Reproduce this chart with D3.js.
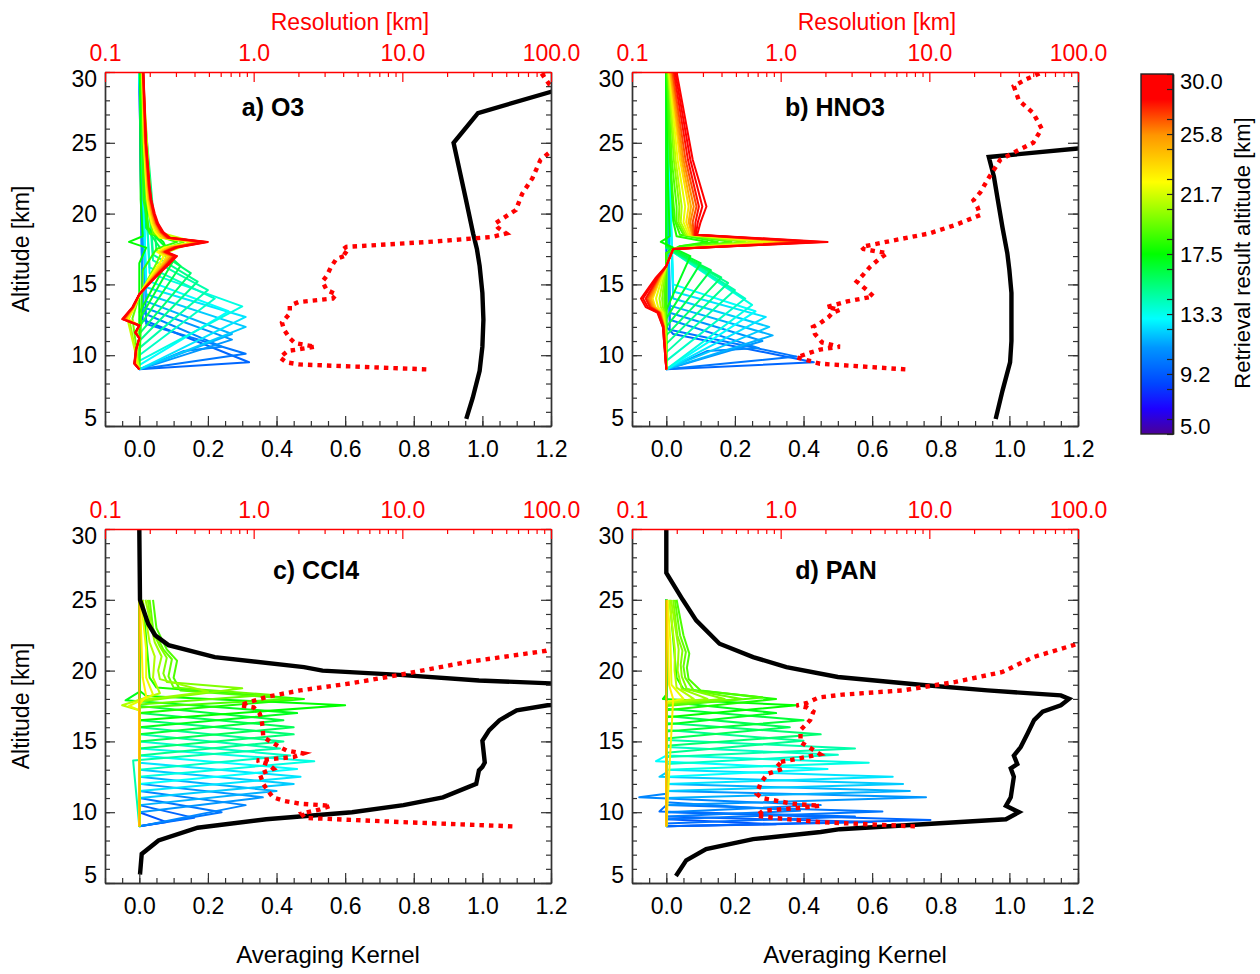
<!DOCTYPE html>
<html>
<head>
<meta charset="utf-8">
<script src="https://cdn.jsdelivr.net/npm/d3@7"></script>
<style>
  body { margin: 0; background: #fff; }
  text { font-family: "Liberation Sans", Arial, sans-serif; }
</style>
</head>
<body>
<svg id="chart" width="1260" height="974"></svg>
<script>
const ALT_TICKS = [5, 10, 15, 20, 25, 30];
const AK_TICKS = [0, 0.2, 0.4, 0.6, 0.8, 1.0, 1.2];
const RES_TICKS = [0.1, 1, 10, 100];
const CBAR_TICKS = [5.0, 9.17, 13.33, 17.5, 21.67, 25.83, 30.0];

const CMAP_POS = [0, 0.07, 0.14, 0.24, 0.32, 0.5, 0.7, 0.83, 0.93, 1];
const CMAP_COL = ['#4b0096', '#1e00ff', '#0046ff', '#0096ff', '#00ffff', '#00ff00', '#ffff00', '#ff9600', '#ff0000', '#ff0000'];

// kernels: [retrieval altitude, [alt, ak, alt, ak, ...]]
const O3_AK = [
  [9.5,  [9.0,0, 9.5,0.32, 12.5,0.01, 30,0]],
  [10.0, [9.0,0, 10.1,0.31, 12.2,0.02, 30,0]],
  [10.5, [9.0,0, 10.3,0.13, 10.6,0.24, 13.0,0.01, 30,0]],
  [11.0, [9.0,0, 11.1,0.27, 13.4,0.01, 30,0]],
  [11.5, [9.0,0, 11.5,0.27, 13.8,0.02, 30,0]],
  [12.0, [9.0,0, 12.0,0.31, 14.3,0.02, 30,0]],
  [12.5, [9.0,0, 12.7,0.31, 14.8,0.02, 30,0]],
  [13.0, [9.3,0, 13.1,0.26, 15.3,0.02, 30,0]],
  [13.5, [9.6,0, 13.45,0.30, 15.8,0.03, 30,0]],
  [14.0, [10.0,0, 14.0,0.22, 16.2,0.03, 30,0]],
  [14.5, [10.5,0, 14.6,0.20, 16.7,0.04, 30,0]],
  [15.0, [11.0,0, 15.2,0.17, 17.1,0.04, 30,0.005]],
  [15.5, [11.5,0, 15.8,0.15, 17.4,0.05, 30,0.005]],
  [16.0, [12.0,0, 16.3,0.12, 17.6,0.06, 19.0,0.02, 30,0.005]],
  [16.5, [12.5,0, 16.7,0.10, 17.8,0.07, 19.0,0.02, 30,0.005]],
  [17.0, [13.0,0, 17.0,0.09, 18.0,0.07, 19.0,0.025, 30,0.006]],
  [17.5, [9.0,0, 16.5,0, 17.6,0.02, 18.0,-0.03, 18.4,0.01, 21.0,0.004, 30,0.002]],
  [18.5, [9.0,0, 16.0,0.01, 17.5,0.05, 18.0,0.11, 18.6,0.03, 21.0,0.012, 30,0.005]],
  [19.5, [9.0,0, 12.6,-0.02, 14.2,0, 16.5,0.05, 17.5,0.07, 18.0,0.13, 18.6,0.04, 21.0,0.02, 30,0.008]],
  [20.5, [9.0,0, 12.6,-0.03, 14.2,0, 16.5,0.06, 17.4,0.08, 18.0,0.15, 18.6,0.05, 20.0,0.03, 30,0.009]],
  [21.5, [9.0,0, 12.6,-0.035, 14.2,0, 16.5,0.07, 17.3,0.085, 18.0,0.16, 18.7,0.055, 20.0,0.035, 30,0.01]],
  [22.5, [9.0,0, 9.4,-0.01, 10.4,-0.007, 11.2,0, 11.6,-0.008, 12.1,0, 12.55,-0.033, 13.4,-0.013, 14.3,0, 15.3,0.026, 15.8,0.039, 16.5,0.059, 17.0,0.072, 17.3,0.052, 17.6,0.072, 18.0,0.165, 18.3,0.059, 18.7,0.046, 19.3,0.036, 20.0,0.029, 21.0,0.023, 22.0,0.02, 25.0,0.013, 30,0.008]],
  [23.5, [9.0,0, 9.4,-0.011, 10.4,-0.008, 11.2,0, 11.6,-0.009, 12.1,0, 12.55,-0.038, 13.4,-0.015, 14.3,0, 15.3,0.03, 15.8,0.045, 16.5,0.068, 17.0,0.083, 17.3,0.06, 17.6,0.083, 18.0,0.17, 18.3,0.068, 18.7,0.053, 19.3,0.041, 20.0,0.034, 21.0,0.026, 22.0,0.023, 25.0,0.015, 30,0.009]],
  [24.5, [9.0,0, 9.4,-0.012, 10.4,-0.008, 11.2,0, 11.6,-0.01, 12.1,0, 12.55,-0.04, 13.4,-0.016, 14.3,0, 15.3,0.032, 15.8,0.048, 16.5,0.072, 17.0,0.088, 17.3,0.064, 17.6,0.088, 18.0,0.175, 18.3,0.072, 18.7,0.056, 19.3,0.044, 20.0,0.036, 21.0,0.028, 22.0,0.024, 25.0,0.016, 30,0.01]],
  [26.0, [9.0,0, 9.4,-0.013, 10.4,-0.009, 11.2,0, 11.6,-0.01, 12.1,0, 12.55,-0.043, 13.4,-0.017, 14.3,0, 15.3,0.034, 15.8,0.051, 16.5,0.077, 17.0,0.094, 17.3,0.068, 17.6,0.094, 18.0,0.18, 18.3,0.077, 18.7,0.06, 19.3,0.047, 20.0,0.038, 21.0,0.03, 22.0,0.026, 25.0,0.017, 30,0.01]],
  [27.0, [9.0,0, 9.4,-0.014, 10.4,-0.009, 11.2,0, 11.6,-0.011, 12.1,0, 12.55,-0.045, 13.4,-0.018, 14.3,0, 15.3,0.036, 15.8,0.054, 16.5,0.081, 17.0,0.099, 17.3,0.072, 17.6,0.099, 18.0,0.185, 18.3,0.081, 18.7,0.063, 19.3,0.05, 20.0,0.041, 21.0,0.032, 22.0,0.027, 25.0,0.018, 30,0.011]],
  [28.0, [9.0,0, 9.4,-0.014, 10.4,-0.009, 11.2,0, 11.6,-0.011, 12.1,0, 12.55,-0.047, 13.4,-0.019, 14.3,0, 15.3,0.037, 15.8,0.056, 16.5,0.084, 17.0,0.102, 17.3,0.074, 17.6,0.102, 18.0,0.19, 18.3,0.084, 18.7,0.065, 19.3,0.051, 20.0,0.042, 21.0,0.033, 22.0,0.028, 25.0,0.019, 30,0.011]],
  [29.0, [9.0,0, 9.4,-0.014, 10.4,-0.01, 11.2,0, 11.6,-0.012, 12.1,0, 12.55,-0.048, 13.4,-0.019, 14.3,0, 15.3,0.038, 15.8,0.058, 16.5,0.086, 17.0,0.106, 17.3,0.077, 17.6,0.106, 18.0,0.195, 18.3,0.086, 18.7,0.067, 19.3,0.053, 20.0,0.043, 21.0,0.034, 22.0,0.029, 25.0,0.019, 30,0.012]],
  [30.0, [9.0,0, 9.4,-0.015, 10.4,-0.01, 11.2,0, 11.6,-0.012, 12.1,0, 12.55,-0.05, 13.4,-0.02, 14.3,0, 15.3,0.04, 15.8,0.06, 16.5,0.09, 17.0,0.11, 17.3,0.08, 17.6,0.11, 18.0,0.20, 18.3,0.09, 18.7,0.07, 19.3,0.055, 20.0,0.045, 21.0,0.035, 22.0,0.03, 25.0,0.02, 30,0.012]],
];

const HNO3_AK = [
  [9.5,  [9.0,0, 9.5,0.43, 11.5,0.02, 12.0,0, 30,0]],
  [10.0, [9.0,0, 9.9,0.38, 11.8,0.01, 30,0]],
  [10.5, [9.0,0, 10.3,0.12, 10.5,0.27, 12.5,0.01, 30,0]],
  [11.0, [9.0,0, 11.0,0.28, 13.0,0.01, 30,0]],
  [11.5, [9.0,0, 11.4,0.31, 13.5,0.01, 30,0]],
  [12.0, [9.0,0, 12.0,0.30, 14.0,0.02, 30,0]],
  [12.5, [9.0,0, 12.7,0.29, 14.5,0.02, 30,0]],
  [13.0, [9.0,0, 13.1,0.26, 15.0,0.02, 30,0]],
  [13.5, [9.0,0, 13.55,0.25, 17.6,0, 30,0]],
  [14.0, [9.6,0, 14.0,0.23, 17.6,0, 30,0]],
  [14.5, [10.2,0, 14.6,0.20, 17.6,0, 30,0]],
  [15.0, [10.8,0, 15.1,0.18, 17.6,0, 30,0]],
  [15.5, [11.4,0, 15.5,0.16, 17.6,0, 30,0]],
  [16.0, [12.0,0, 16.0,0.13, 17.6,0, 30,0]],
  [16.5, [12.6,0, 16.5,0.10, 17.7,0, 30,0]],
  [17.0, [13.2,0, 17.0,0.07, 17.8,0, 30,0]],
  [17.5, [9.0,0, 17.2,0, 17.6,0.02, 18.0,-0.016, 18.4,0.01, 22.0,0.005, 30,0]],
  [18.0, [9.0,0, 17.2,0, 17.7,0.04, 18.0,0.12, 18.4,0.03, 19.5,0.02, 22.0,0.015, 30,0.002]],
  [18.5, [9.0,0, 17.2,0, 17.7,0.04, 18.0,0.15, 18.5,0.04, 19.5,0.025, 21.0,0.02, 24.0,0.01, 30,0.002]],
  [19.0, [9.0,0, 12.0,-0.001, 13.0,-0.002, 13.4,-0.005, 14.0,-0.006, 15.5,-0.002, 16.3,0, 17.5,0.02, 18.0,0.19, 18.5,0.05, 19.4,0.03, 20.5,0.03, 23.8,0.016, 30,0.003]],
  [20.0, [9.0,0, 12.0,-0.002, 13.0,-0.004, 13.4,-0.01, 14.0,-0.012, 15.5,-0.005, 16.3,0, 17.5,0.02, 18.0,0.23, 18.5,0.055, 19.4,0.036, 20.5,0.038, 23.8,0.022, 30,0.005]],
  [21.0, [9.0,0, 12.0,-0.003, 13.0,-0.007, 13.4,-0.016, 14.0,-0.02, 15.5,-0.008, 16.3,0, 17.5,0.02, 18.0,0.27, 18.5,0.06, 19.4,0.042, 20.5,0.045, 23.8,0.027, 30,0.006]],
  [22.0, [9.0,0, 12.0,-0.004, 13.0,-0.01, 13.4,-0.024, 14.0,-0.03, 15.5,-0.012, 16.3,0, 17.5,0.02, 18.0,0.31, 18.5,0.065, 19.4,0.05, 20.5,0.055, 23.8,0.033, 30,0.008]],
  [23.5, [9.0,0, 12.0,-0.006, 13.0,-0.014, 13.4,-0.032, 14.0,-0.04, 15.5,-0.016, 16.3,0, 17.5,0.02, 18.0,0.36, 18.5,0.07, 19.4,0.058, 20.5,0.065, 23.8,0.04, 30,0.01]],
  [25.0, [9.0,0, 12.0,-0.006, 13.0,-0.016, 13.4,-0.036, 14.0,-0.045, 15.5,-0.018, 16.3,0, 17.5,0.02, 18.0,0.38, 18.5,0.075, 19.4,0.065, 20.5,0.072, 23.8,0.045, 30,0.012]],
  [26.0, [9.0,0, 12.0,-0.007, 13.0,-0.018, 13.4,-0.04, 14.0,-0.05, 15.5,-0.02, 16.3,0, 17.5,0.02, 18.0,0.40, 18.5,0.078, 19.4,0.07, 20.5,0.08, 23.8,0.05, 30,0.015]],
  [27.0, [9.0,0, 12.0,-0.008, 13.0,-0.019, 13.4,-0.044, 14.0,-0.055, 15.5,-0.022, 16.3,0, 17.5,0.02, 18.0,0.41, 18.5,0.08, 19.4,0.077, 20.5,0.088, 23.8,0.056, 30,0.018]],
  [28.0, [9.0,0, 12.0,-0.008, 13.0,-0.021, 13.4,-0.048, 14.0,-0.06, 15.5,-0.024, 16.3,0, 17.5,0.02, 18.0,0.43, 18.5,0.083, 19.4,0.085, 20.5,0.095, 23.8,0.063, 30,0.022]],
  [29.0, [9.0,0, 12.0,-0.01, 13.0,-0.024, 13.4,-0.054, 14.0,-0.068, 15.5,-0.027, 16.3,0, 17.5,0.02, 18.0,0.45, 18.5,0.086, 19.4,0.092, 20.5,0.105, 23.8,0.07, 30,0.026]],
  [30.0, [9.0,0, 12.0,-0.01, 13.0,-0.026, 13.4,-0.06, 14.0,-0.074, 15.5,-0.03, 16.3,0, 17.5,0.02, 18.0,0.47, 18.5,0.09, 19.4,0.10, 20.5,0.117, 23.8,0.077, 30,0.03]],
];

const CCL4_AK = [
  [9.0,  [9.0,0, 9.3,0.08, 10.0,0, 25,0]],
  [9.5,  [9.0,0, 9.6,0.16, 10.5,0, 25,0]],
  [10.0, [9.0,0, 10.0,0.24, 11.0,0, 25,0]],
  [10.5, [9.0,0, 10.5,0.31, 11.5,0, 25,0]],
  [11.0, [9.0,0, 10.0,0, 11.05,0.36, 12.0,0, 25,0]],
  [11.5, [9.0,0, 10.5,0, 11.5,0.40, 12.5,0, 25,0]],
  [12.0, [9.0,0, 11.0,0, 12.0,0.45, 13.0,0, 25,0]],
  [12.5, [9.0,0, 11.5,0, 12.5,0.47, 13.5,0, 25,0]],
  [13.0, [9.0,0, 12.0,0, 13.05,0.46, 14.0,0, 25,0]],
  [13.5, [9.0,0, 12.5,0, 13.6,0.51, 14.5,0, 25,0]],
  [14.0, [9.0,0, 13.0,0, 14.0,0.44, 15.0,0, 25,0]],
  [14.5, [9.0,0, 13.65,-0.018, 14.5,0.41, 15.5,0, 25,0]],
  [15.0, [9.0,0, 14.0,0, 15.0,0.42, 16.0,0, 25,0]],
  [15.5, [9.0,0, 14.5,0, 15.5,0.45, 16.5,0, 25,0]],
  [16.0, [9.0,0, 15.0,0, 16.0,0.45, 17.0,0, 25,0]],
  [16.5, [9.0,0, 15.5,0, 16.5,0.42, 17.5,0, 25,0]],
  [17.0, [9.0,0, 16.0,0, 17.0,0.46, 17.9,-0.04, 18.5,0, 25,0]],
  [17.5, [9.0,0, 16.5,0, 17.55,0.60, 18.2,0.02, 18.6,0, 25,0]],
  [18.0, [9.0,0, 17.0,0, 18.0,0.48, 18.8,0.05, 19.5,0.03, 25,0.01]],
  [19.0, [9.0,0, 17.4,0, 18.0,0.45, 18.6,0.12, 19.5,0.10, 20.7,0.11, 21.5,0.08, 23.0,0.05, 25,0.04]],
  [19.5, [9.0,0, 17.6,0, 18.3,0.38, 18.8,0.10, 19.6,0.085, 20.8,0.095, 21.5,0.07, 23.0,0.04, 25,0.03]],
  [20.0, [9.0,0, 17.8,0, 18.75,0.30, 19.2,0.08, 19.8,0.07, 20.9,0.08, 21.7,0.06, 23.0,0.035, 25,0.025]],
  [20.5, [9.0,0, 17.9,0, 18.5,0.20, 19.4,0.06, 20.0,0.055, 21.0,0.065, 22.0,0.045, 25,0.018]],
  [21.0, [9.0,0, 17.2,0, 17.55,-0.05, 18.4,0.06, 19.5,0.04, 21.0,0.045, 22.0,0.03, 25,0.01]],
  [22.0, [9.0,0, 17.2,0, 17.5,-0.03, 18.3,0.04, 19.5,0.02, 21.5,0.02, 25,0.005]],
  [23.0, [9.0,0, 17.6,0, 18.2,0.02, 19.5,0.01, 25,0.002]],
  [25.0, [9.0,0, 25,0]],
];

const PAN_AK = [
  [9.0,   [9.0,0, 9.15,0.32, 9.5,0, 25,0]],
  [9.25,  [9.0,0, 9.3,0.60, 9.7,0, 25,0]],
  [9.5,   [9.0,0, 9.45,0.77, 10.0,0, 25,0]],
  [9.75,  [9.2,0, 9.7,0.55, 10.05,-0.02, 10.5,0, 25,0]],
  [10.0,  [9.5,0, 10.05,0.63, 10.5,0, 25,0]],
  [10.25, [9.7,0, 10.1,0.39, 10.7,0, 25,0]],
  [10.5,  [10.0,0, 10.5,0.45, 11.05,-0.079, 11.3,0, 25,0]],
  [11.0,  [10.5,0, 11.05,0.757, 11.5,0, 25,0]],
  [11.5,  [11.0,0, 11.5,0.71, 12.0,0, 25,0]],
  [12.0,  [11.5,0, 12.0,0.69, 12.5,-0.02, 12.8,0, 25,0]],
  [12.5,  [12.0,0, 12.5,0.66, 13.0,0, 25,0]],
  [13.0,  [12.5,0, 13.05,0.47, 13.6,-0.03, 14.0,0, 25,0]],
  [13.5,  [13.0,0, 13.5,0.59, 14.0,0, 25,0]],
  [14.0,  [13.4,0, 14.05,0.50, 14.6,0, 25,0]],
  [14.5,  [13.9,0, 14.5,0.55, 15.1,0, 25,0]],
  [15.0,  [14.2,0, 15.05,0.40, 15.8,0, 25,0]],
  [15.5,  [14.7,0, 15.5,0.45, 16.3,0, 25,0]],
  [16.0,  [15.2,0, 16.0,0.36, 16.8,0, 25,0]],
  [16.5,  [15.7,0, 16.5,0.40, 17.3,0, 25,0]],
  [17.0,  [16.2,0, 17.0,0.32, 17.8,0, 25,0]],
  [17.5,  [16.7,0, 17.55,0.38, 18.0,-0.01, 18.3,0, 25,0]],
  [18.0,  [17.2,0, 18.0,0.32, 18.7,0.05, 19.5,0.03, 25,0.01]],
  [19.0,  [9.0,0, 17.5,0, 18.1,0.28, 18.6,0.10, 19.4,0.065, 20.2,0.06, 21.2,0.067, 22.5,0.05, 25,0.03]],
  [19.5,  [9.0,0, 17.6,0, 18.0,0.22, 18.6,0.08, 19.5,0.055, 20.3,0.05, 21.3,0.057, 22.5,0.04, 25,0.025]],
  [20.0,  [9.0,0, 17.7,0, 18.0,0.17, 18.7,0.06, 19.6,0.045, 20.4,0.042, 21.4,0.047, 22.5,0.032, 25,0.02]],
  [20.5,  [9.0,0, 17.7,0, 18.0,0.12, 18.7,0.045, 20.0,0.033, 21.5,0.036, 25,0.014]],
  [21.0,  [9.0,0, 17.7,0, 18.0,0.08, 18.8,0.03, 20.0,0.024, 21.5,0.025, 25,0.009]],
  [22.0,  [9.0,0, 17.8,0, 18.0,0.05, 19.0,0.015, 22.0,0.012, 25,0.004]],
  [23.0,  [9.0,0, 18.0,0.02, 19.0,0.008, 25,0.002]],
  [25.0,  [9.0,0, 25,0]],
];

// sum of kernel rows: [alt, value]
const O3_SUM = [[5.5,0.953],[7.0,0.972],[8.9,0.992],[10.6,1.0],[12.5,1.003],[14.4,1.0],[16.3,0.992],[17.5,0.984],[18.6,0.973],[21.0,0.952],[23.0,0.934],[25.0,0.916],[27.1,0.987],[28.6,1.2],[30,1.45]];
const HNO3_SUM = [[5.5,0.96],[7.5,0.98],[9.5,1.002],[11.0,1.006],[14.4,1.006],[16.0,1.0],[17.2,0.994],[19.0,0.98],[21.0,0.966],[22.6,0.955],[24.0,0.94],[24.6,1.2],[25.0,1.5]];
const CCL4_SUM = [[5.6,0.002],[7.05,0.007],[8.0,0.056],[8.9,0.17],[9.5,0.37],[10.0,0.62],[10.5,0.77],[11.05,0.885],[12.0,0.982],[12.95,0.99],[13.2,1.0],[13.5,1.007],[15.05,1.0],[15.8,1.02],[16.5,1.05],[17.2,1.1],[17.55,1.19],[18.3,1.5],[18.8,1.5],[19.1,1.2],[19.3,0.99],[19.7,0.76],[20.0,0.534],[20.25,0.48],[20.95,0.22],[21.8,0.085],[22.5,0.046],[23.3,0.026],[25.0,0.002],[30.0,0.0]];
const PAN_SUM = [[5.5,0.028],[6.6,0.058],[7.4,0.116],[8.1,0.253],[8.6,0.45],[8.8,0.506],[9.5,0.99],[10.0,1.028],[10.45,0.99],[11.05,1.004],[12.5,1.013],[13.1,1.004],[13.4,1.023],[14.0,1.013],[14.6,1.033],[15.55,1.053],[16.5,1.072],[17.1,1.097],[17.55,1.15],[18.0,1.174],[18.25,1.15],[18.6,0.936],[19.0,0.74],[19.55,0.5],[20.25,0.35],[20.95,0.253],[21.9,0.155],[23.55,0.087],[25.0,0.048],[26.9,0.0],[30.0,0.0]];

// vertical resolution: [alt, km]
const O3_RES = [[9.0,14.5],[9.35,2.0],[9.5,1.66],[9.85,1.5],[10.3,1.7],[10.6,2.6],[10.85,1.9],[11.2,1.75],[11.8,1.6],[12.3,1.55],[12.95,1.75],[13.5,1.75],[13.75,2.0],[14.0,3.4],[14.3,3.6],[14.6,3.1],[15.2,2.9],[15.6,3.1],[16.2,3.3],[16.8,3.6],[17.1,4.3],[17.4,3.9],[17.65,4.2],[18.0,15],[18.35,40],[18.6,50],[19.0,44],[19.3,42],[20.25,58],[21.4,64],[22.5,75],[23.8,85],[24.4,100],[25.5,150],[27.0,220],[28.5,160],[29.1,98],[30.0,85]];
const HNO3_RES = [[9.0,6.9],[9.4,1.84],[9.85,1.28],[10.2,1.6],[10.4,1.84],[10.6,2.5],[10.9,1.9],[11.5,1.7],[12.0,1.65],[12.25,1.84],[12.7,2.1],[13.0,2.24],[13.2,2.5],[13.4,2.04],[13.8,2.8],[14.15,4.2],[14.6,3.8],[15.2,3.25],[15.7,3.6],[16.25,4.0],[16.8,4.6],[17.2,5.2],[17.5,3.6],[17.65,3.5],[18.1,5.7],[18.6,10],[19.2,15],[19.9,22],[20.5,21],[20.95,19.8],[21.5,22],[22.5,25],[23.8,30],[24.5,40],[25.0,50],[26.0,57],[27.1,50],[28.0,40],[29.0,37],[29.5,45],[30.0,58]];
const CCL4_RES = [[9.0,55],[9.3,10],[9.6,2.2],[9.9,2.1],[10.2,2.8],[10.45,3.3],[10.6,2.05],[10.8,1.6],[11.05,1.35],[11.5,1.25],[12.0,1.16],[12.7,1.1],[13.07,1.36],[13.4,1.25],[13.65,1.05],[13.9,1.85],[14.15,2.16],[14.35,1.67],[14.6,1.5],[15.3,1.16],[16.0,1.15],[16.5,1.13],[16.95,1.1],[17.4,1.0],[17.55,0.81],[17.8,0.95],[18.15,1.23],[18.6,2.05],[19.1,4.5],[19.7,9.6],[20.6,27],[21.4,93],[22.0,150]];
const PAN_RES = [[9.0,8.0],[9.3,1.84],[9.6,0.9],[9.75,0.69],[10.1,0.76],[10.3,1.3],[10.45,1.84],[10.6,1.2],[11.0,0.75],[11.3,0.69],[12.0,0.73],[12.7,0.81],[13.07,1.04],[13.5,0.94],[13.9,1.49],[14.1,1.84],[14.5,1.6],[14.95,1.36],[15.8,1.36],[16.5,1.58],[17.1,1.66],[17.4,1.5],[17.55,1.28],[17.7,1.49],[18.1,1.8],[18.3,2.6],[18.6,6.6],[19.2,15],[19.9,31],[20.95,50],[21.8,93],[22.3,130]];

const PANELS = [
  { title: 'a) O3',   ak: O3_AK,   sum: O3_SUM,   res: O3_RES,   x: 105, y: 72,  tx: 273, ty: 116 },
  { title: 'b) HNO3', ak: HNO3_AK, sum: HNO3_SUM, res: HNO3_RES, x: 632, y: 72,  tx: 835, ty: 116 },
  { title: 'c) CCl4', ak: CCL4_AK, sum: CCL4_SUM, res: CCL4_RES, x: 105, y: 529, tx: 316, ty: 579 },
  { title: 'd) PAN',  ak: PAN_AK,  sum: PAN_SUM,  res: PAN_RES,  x: 632, y: 529, tx: 836, ty: 579 },
];

const W = 446, H = 354;
const FS = 23;
const svg = d3.select('#chart');

const color = d3.scaleLinear().domain(CMAP_POS.map(t => 5 + 25 * t)).range(CMAP_COL).clamp(true);
const x = d3.scaleLinear().domain([-0.1, 1.2]).range([0, W]);
const y = d3.scaleLinear().domain([5, 30]).range([H, 0]);
const xr = d3.scaleLog().domain([0.1, 100]).range([0, W]);

const pairs = flat => d3.range(0, flat.length, 2).map(k => [flat[k], flat[k + 1]]);
const akLine = d3.line().x(d => x(d[1])).y(d => y(d[0]));
const resLine = d3.line().x(d => xr(d[1])).y(d => y(d[0]));

const minorAlt = d3.range(5, 31);
const minorAk = d3.range(-2, 25).map(k => k * 0.05);
const minorRes = d3.range(2, 10).flatMap(k => [k * 0.1, k, k * 10]);

function styleAxis(sel, col) {
  sel.attr('font-size', null).attr('font-family', null);
  sel.select('.domain').attr('stroke', col).attr('stroke-width', 1.4);
  sel.selectAll('.tick line').attr('stroke', col).attr('stroke-width', 1.2);
  sel.selectAll('.tick text').attr('fill', col).attr('font-size', FS);
  return sel;
}

PANELS.forEach((p, i) => {
  const g = svg.append('g').attr('transform', `translate(${p.x},${p.y})`);
  g.append('clipPath').attr('id', `clip${i}`).append('rect').attr('width', W).attr('height', H);
  const plot = g.append('g').attr('clip-path', `url(#clip${i})`);

  plot.selectAll('.kernel').data(p.ak).join('path')
    .attr('class', 'kernel')
    .attr('d', d => akLine(pairs(d[1])))
    .attr('fill', 'none')
    .attr('stroke', d => color(d[0]))
    .attr('stroke-width', 2)
    .attr('stroke-linejoin', 'round');

  plot.append('path')
    .attr('d', akLine(p.sum))
    .attr('fill', 'none').attr('stroke', '#000').attr('stroke-width', 4.4);

  plot.append('path')
    .attr('d', resLine(p.res))
    .attr('fill', 'none').attr('stroke', '#ff0000').attr('stroke-width', 4.4)
    .attr('stroke-dasharray', '4.5 5');

  const dark = '#333';
  // left
  styleAxis(g.append('g').call(d3.axisLeft(y).tickValues(minorAlt).tickSize(-5).tickSizeOuter(0).tickFormat('')), dark);
  const la = styleAxis(g.append('g').call(d3.axisLeft(y).tickValues(ALT_TICKS).tickSize(-10).tickSizeOuter(0).tickPadding(8).tickFormat(d3.format('d'))), dark);
  la.selectAll('.tick text').attr('fill', '#000').attr('dy', d => d === 30 ? 14 : d === 5 ? -1 : 7.5);
  // right
  const rg = g.append('g').attr('transform', `translate(${W},0)`);
  styleAxis(rg.append('g').call(d3.axisRight(y).tickValues(minorAlt).tickSize(-5).tickSizeOuter(0).tickFormat('')), dark);
  styleAxis(rg.append('g').call(d3.axisRight(y).tickValues(ALT_TICKS).tickSize(-10).tickSizeOuter(0).tickFormat('')), dark);
  // bottom
  const bg = g.append('g').attr('transform', `translate(0,${H})`);
  styleAxis(bg.append('g').call(d3.axisBottom(x).tickValues(minorAk).tickSize(-5).tickSizeOuter(0).tickFormat('')), dark);
  const ba = styleAxis(bg.append('g').call(d3.axisBottom(x).tickValues(AK_TICKS).tickSize(-10).tickSizeOuter(0).tickPadding(15).tickFormat(d3.format('.1f'))), dark);
  ba.selectAll('.tick text').attr('fill', '#000');
  // top, resolution
  styleAxis(g.append('g').call(d3.axisTop(xr).tickValues(minorRes).tickSize(-5).tickSizeOuter(0).tickFormat('')), '#ff0000');
  styleAxis(g.append('g').call(d3.axisTop(xr).tickValues(RES_TICKS).tickSize(-10).tickSizeOuter(0).tickPadding(11).tickFormat(d3.format('.1f'))), '#ff0000')
    .select('.domain').attr('stroke-width', 1);

  svg.append('text')
    .attr('x', p.tx).attr('y', p.ty)
    .attr('text-anchor', 'middle')
    .attr('font-size', 25).attr('font-weight', 'bold')
    .text(p.title);

  if (i < 2) {
    svg.append('text')
      .attr('x', p.x + 245).attr('y', 30)
      .attr('text-anchor', 'middle').attr('font-size', FS).attr('fill', '#ff0000')
      .text('Resolution [km]');
  } else {
    svg.append('text')
      .attr('x', p.x + W / 2).attr('y', 963)
      .attr('text-anchor', 'middle').attr('font-size', 24)
      .text('Averaging Kernel');
  }
  if (i % 2 === 0) {
    svg.append('text')
      .attr('transform', `translate(29,${p.y + H / 2}) rotate(-90)`)
      .attr('text-anchor', 'middle').attr('font-size', FS)
      .text('Altitude [km]');
  }
});

// colour bar
const grad = svg.append('defs').append('linearGradient')
  .attr('id', 'cbar').attr('x1', 0).attr('y1', 1).attr('x2', 0).attr('y2', 0);
grad.selectAll('stop').data(CMAP_POS).join('stop')
  .attr('offset', d => d)
  .attr('stop-color', (d, i) => CMAP_COL[i]);

const CB_W = 32, CB_H = 360;
const cb = svg.append('g').attr('transform', 'translate(1141,74)');
const cy = d3.scaleLinear().domain([5, 30]).range([CB_H, 0]);
cb.append('rect').attr('width', CB_W).attr('height', CB_H).attr('fill', 'url(#cbar)');

const cbMinor = d3.range(0, 12).map(k => 5 + (k + 0.5) * 25 / 12);
const cbAx = cb.append('g').attr('transform', `translate(${CB_W},0)`);
styleAxis(cbAx.append('g').call(d3.axisRight(cy).tickValues(cbMinor).tickSize(-6).tickSizeOuter(0).tickFormat('')), '#222');
const cbl = styleAxis(cbAx.append('g').call(d3.axisRight(cy).tickValues(CBAR_TICKS).tickSize(-6).tickSizeOuter(0).tickPadding(7).tickFormat(d3.format('.1f'))), '#222');
cbl.selectAll('.tick text').attr('fill', '#000').attr('font-size', 22).attr('dy', d => d === 30 ? 14 : d === 5 ? -1 : 7.5);
cb.append('rect').attr('width', CB_W).attr('height', CB_H)
  .attr('fill', 'none').attr('stroke', '#222').attr('stroke-width', 1.4);

svg.append('text')
  .attr('transform', 'translate(1250,253) rotate(-90)')
  .attr('text-anchor', 'middle').attr('font-size', 22)
  .text('Retrieval result altitude [km]');
</script>
</body>
</html>
